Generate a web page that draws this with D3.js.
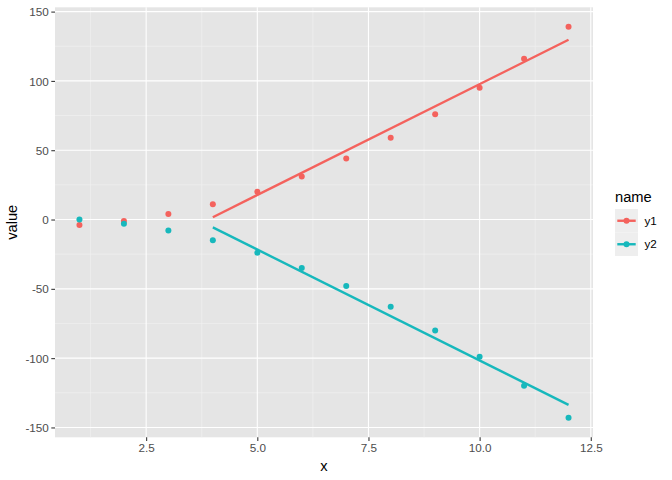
<!DOCTYPE html>
<html>
<head>
<meta charset="utf-8">
<script src="https://cdn.jsdelivr.net/npm/d3@7"></script>
<style>
  body { margin: 0; background: #fff; }
  svg { display: block; font-family: "Liberation Sans", Arial, sans-serif; }
</style>
</head>
<body>
<svg id="chart" width="672" height="480"></svg>
<script>
const xs = [1, 2, 3, 4, 5, 6, 7, 8, 9, 10, 11, 12];
const y1 = [-4, -1, 4, 11, 20, 31, 44, 59, 76, 95, 116, 139];
const y2 = [0, -3, -8, -15, -24, -35, -48, -63, -80, -99, -120, -143];
const seriesNames = ['y1', 'y2'];
const seriesColors = ['#F4625D', '#17B8BC'];
const xTicks = [2.5, 5.0, 7.5, 10.0, 12.5];
const yTicks = [-150, -100, -50, 0, 50, 100, 150];
const fitFrom = 4;

const panel = { left: 55, right: 593, top: 7.3, bottom: 437.3 };

const svg = d3.select('#chart');

const series = seriesNames.map((name, i) => ({
    name,
    color: seriesColors[i],
    points: xs.map((x, j) => ({ x, y: (i === 0 ? y1 : y2)[j] }))
}));

// ggplot-style 5% expansion
const xExt = d3.extent(xs);
const yExt = d3.extent(y1.concat(y2));
const xPad = (xExt[1] - xExt[0]) * 0.05;
const yPad = (yExt[1] - yExt[0]) * 0.05;

const x = d3.scaleLinear()
    .domain([xExt[0] - xPad, xExt[1] + xPad])
    .range([panel.left, panel.right]);

const y = d3.scaleLinear()
    .domain([yExt[0] - yPad, yExt[1] + yPad])
    .range([panel.bottom, panel.top]);

// panel background
svg.append('rect')
    .attr('x', panel.left)
    .attr('y', panel.top)
    .attr('width', panel.right - panel.left)
    .attr('height', panel.bottom - panel.top)
    .attr('fill', '#E5E5E5');

// minor grid at midpoints
const xMinor = xTicks.map(t => t - 1.25).concat([xTicks[xTicks.length - 1] + 1.25])
    .filter(v => v > x.domain()[0] && v < x.domain()[1]);
const yMinor = yTicks.map(t => t - 25).concat([yTicks[yTicks.length - 1] + 25])
    .filter(v => v > y.domain()[0] && v < y.domain()[1]);

const grid = svg.append('g').attr('class', 'grid');

grid.selectAll('.xminor')
    .data(xMinor)
    .enter()
    .append('line')
    .attr('x1', d => x(d)).attr('x2', d => x(d))
    .attr('y1', panel.top).attr('y2', panel.bottom)
    .attr('stroke', '#f2f2f2').attr('stroke-width', 0.6);

grid.selectAll('.yminor')
    .data(yMinor)
    .enter()
    .append('line')
    .attr('y1', d => y(d)).attr('y2', d => y(d))
    .attr('x1', panel.left).attr('x2', panel.right)
    .attr('stroke', '#f2f2f2').attr('stroke-width', 0.6);

grid.selectAll('.xmajor')
    .data(xTicks)
    .enter()
    .append('line')
    .attr('x1', d => x(d)).attr('x2', d => x(d))
    .attr('y1', panel.top).attr('y2', panel.bottom)
    .attr('stroke', '#fff').attr('stroke-width', 1.1);

grid.selectAll('.ymajor')
    .data(yTicks)
    .enter()
    .append('line')
    .attr('y1', d => y(d)).attr('y2', d => y(d))
    .attr('x1', panel.left).attr('x2', panel.right)
    .attr('stroke', '#fff').attr('stroke-width', 1.1);

// axes
const xAxis = svg.append('g')
    .attr('transform', `translate(0,${panel.bottom})`)
    .call(d3.axisBottom(x).tickValues(xTicks).tickFormat(d3.format('.1f')).tickSizeOuter(0).tickSize(3.7).tickPadding(2.5));

const yAxis = svg.append('g')
    .attr('transform', `translate(${panel.left},0)`)
    .call(d3.axisLeft(y).tickValues(yTicks).tickFormat(d => d).tickSizeOuter(0).tickSize(3.7).tickPadding(2.5));

[xAxis, yAxis].forEach(ax => {
    ax.select('.domain').remove();
    ax.selectAll('.tick line').attr('stroke', '#333333').attr('stroke-width', 1.07);
    ax.selectAll('.tick text')
        .attr('fill', '#4D4D4D')
        .attr('font-size', '11.7px')
        .attr('font-family', '"Liberation Sans", Arial, sans-serif');
});
yAxis.selectAll('.tick text').attr('dy', '0.35em');

// regression lines (lm on x >= fitFrom)
function linearFit(pts) {
    const mx = d3.mean(pts, p => p.x);
    const my = d3.mean(pts, p => p.y);
    const sxy = d3.sum(pts, p => (p.x - mx) * (p.y - my));
    const sxx = d3.sum(pts, p => (p.x - mx) ** 2);
    const b = sxy / sxx;
    return v => my + b * (v - mx);
}

const line = d3.line().x(d => x(d.x)).y(d => y(d.y));

series.forEach(s => {
    const sub = s.points.filter(p => p.x >= fitFrom);
    const f = linearFit(sub);
    const ends = d3.extent(sub, p => p.x).map(v => ({ x: v, y: f(v) }));
    svg.append('path')
        .datum(ends)
        .attr('d', line)
        .attr('fill', 'none')
        .attr('stroke', s.color)
        .attr('stroke-width', 2.4);
});

// points
series.forEach(s => {
    svg.append('g')
        .selectAll('circle')
        .data(s.points)
        .enter()
        .append('circle')
        .attr('cx', d => x(d.x))
        .attr('cy', d => y(d.y))
        .attr('r', 3)
        .attr('fill', s.color);
});

// axis titles
svg.append('text')
    .attr('x', (panel.left + panel.right) / 2)
    .attr('y', 471)
    .attr('text-anchor', 'middle')
    .attr('font-size', '14.7px')
    .attr('fill', '#000')
    .text('x');

svg.append('text')
    .attr('transform', `translate(17,${(panel.top + panel.bottom) / 2}) rotate(-90)`)
    .attr('text-anchor', 'middle')
    .attr('font-size', '14.7px')
    .attr('fill', '#000')
    .text('value');

// legend
const legend = svg.append('g').attr('transform', 'translate(615,0)');

legend.append('text')
    .attr('x', 0)
    .attr('y', 202)
    .attr('font-size', '14.7px')
    .attr('fill', '#000')
    .text('name');

const keys = legend.selectAll('.key')
    .data(series)
    .enter()
    .append('g')
    .attr('class', 'key')
    .attr('transform', (d, i) => `translate(0,${209 + i * 23.5})`);

keys.append('rect')
    .attr('width', 23)
    .attr('height', 23.5)
    .attr('fill', '#EEEEEE');

keys.append('line')
    .attr('x1', 2.3).attr('x2', 20.7)
    .attr('y1', 11.75).attr('y2', 11.75)
    .attr('stroke', d => d.color)
    .attr('stroke-width', 2.4);

keys.append('circle')
    .attr('cx', 11.5)
    .attr('cy', 11.75)
    .attr('r', 3)
    .attr('fill', d => d.color);

keys.append('text')
    .attr('x', 29.5)
    .attr('y', 11.75)
    .attr('dy', '0.35em')
    .attr('font-size', '11.7px')
    .attr('fill', '#000')
    .text(d => d.name);
</script>
</body>
</html>
